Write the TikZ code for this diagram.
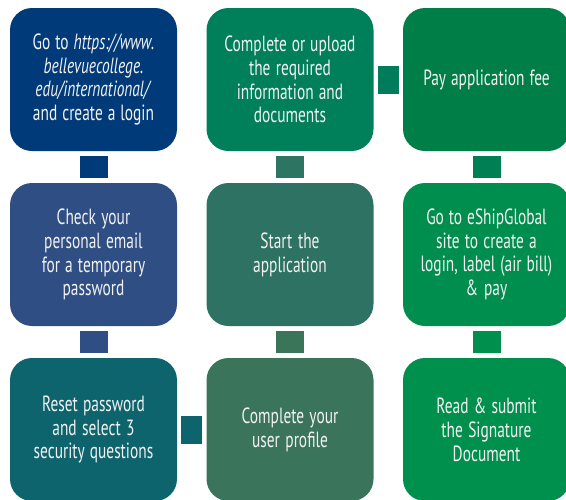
\documentclass[tikz,border=0pt]{standalone}
\usepackage{fontspec}
\setmainfont[FakeStretch=0.7]{PT Sans}
\newcommand\boxfont{\fontsize{22}{23.8}\selectfont}
\newcommand\setsp{\spaceskip=4.5pt plus 1pt minus 1pt\relax\xspaceskip=4.5pt\relax}
\definecolor{rAa}{HTML}{003A78}
\definecolor{rAb}{HTML}{007F5B}
\definecolor{rAc}{HTML}{007E48}
\definecolor{rBa}{HTML}{2F4F84}
\definecolor{rBb}{HTML}{2D7262}
\definecolor{rBc}{HTML}{008E4E}
\definecolor{rCa}{HTML}{0D646D}
\definecolor{rCb}{HTML}{3A745B}
\definecolor{rCc}{HTML}{00904D}
\definecolor{cAb}{HTML}{2E7462}
\definecolor{cAr}{HTML}{007C5C}
\definecolor{cAc}{HTML}{007F54}
\definecolor{cBb}{HTML}{3A755A}
\definecolor{cBc}{HTML}{008F4C}
\definecolor{txt}{HTML}{F2F2F2}
\begin{document}
\begin{tikzpicture}[x=1pt,y=-1pt,
  stepbox/.style={fill=#1, draw=none, rounded corners=22pt, minimum width=167pt,
    minimum height=143pt, inner sep=0pt, text width=163pt, align=center,
    text=txt, font=\boxfont, execute at begin node=\setsp},
  vconn/.style={draw=#1, line width=28pt, shorten <=5pt, shorten >=5pt},
  hconn/.style={draw=#1, line width=28pt, shorten <=4pt, shorten >=4pt}]
\useasboundingbox (0,0) rectangle (566,499);
\clip (0,0) rectangle (566,499);
\node[stepbox=rAa] (a1) at (93.5,79.5) {Go to \textit{https://www.}\\\textit{bellevuecollege.}\\\textit{edu/international/}\\and create a login};
\node[stepbox=rAb] (a2) at (290,79.5) {Complete or upload\\the required\\information and\\documents};
\node[stepbox=rAc] (a3) at (486.5,79.5) {Pay application fee};
\node[stepbox=rBa] (b1) at (93.5,254.5) {Check your\\personal email\\for a temporary\\password};
\node[stepbox=rBb] (b2) at (290,254.5) {Start the\\application};
\node[stepbox=rBc] (b3) at (486.5,254.5) {Go to eShipGlobal\\site to create a\\login, label (air bill)\\\&~pay};
\node[stepbox=rCa] (c1) at (93.5,429.5) {Reset password\\and select 3\\security questions};
\node[stepbox=rCb] (c2) at (290,429.5) {Complete your\\user profile};
\node[stepbox=rCc] (c3) at (486.5,429.5) {Read \& submit\\the Signature\\Document};
\draw[vconn=rAa] (a1) -- (b1);
\draw[vconn=cAb] (a2) -- (b2);
\draw[hconn=cAr] (a2) -- (a3);
\draw[vconn=cAc] (a3) -- (b3);
\draw[vconn=rBa] (b1) -- (c1);
\draw[vconn=cBb] (b2) -- (c2);
\draw[vconn=cBc] (b3) -- (c3);
\draw[hconn=rCa] (c1) -- (c2);
\end{tikzpicture}
\end{document}
